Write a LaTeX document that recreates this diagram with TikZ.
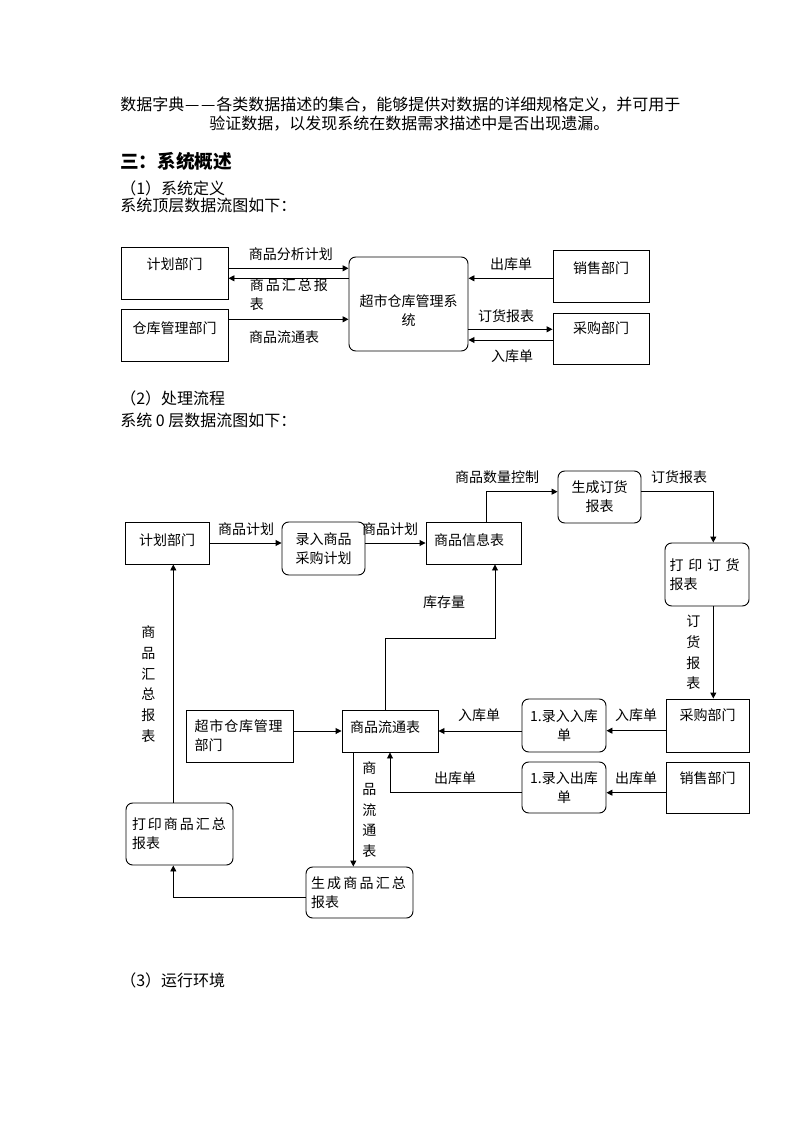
\documentclass[tikz,border=0pt]{standalone}
\usepackage{fontspec}
\setmainfont{Noto Sans CJK SC}
\usetikzlibrary{arrows.meta,positioning}

\newcommand{\dfd}{\fontsize{10.5pt}{14.25pt}\selectfont}
\newcommand{\vdfd}{\fontsize{10.5pt}{15.5pt}\selectfont}
\newcommand{\jspread}[2]{\makebox[#1][s]{#2}}

\begin{document}
\begin{tikzpicture}[x=0.75pt, y=-0.75pt,
    >={Triangle[length=4.5pt,width=4.5pt]},
    every node/.style={inner sep=0pt},
    ext/.style={draw, line width=0.7pt, font=\dfd},
    proc/.style={ext, rounded corners=5pt},
    lift/.style={text depth=#1},
    link/.style={->, line width=0.7pt},
    lbl/.style={font=\dfd},
    vlbl/.style={font=\vdfd, align=center},
    body/.style={font=\fontsize{12pt}{15pt}\selectfont, anchor=west}]
    %% Page
    \useasboundingbox (0,0) rectangle (794,1123);

    %% Text
    \node[body] (t1) at (120,105) {数据字典\makebox[1em]{—}\makebox[1em]{—}各类数据描述的集合，能够提供对数据的详细规格定义，并可用于};
    \node[body] (t2) at (209,123.3) {验证数据，以发现系统在数据需求描述中是否出现遗漏。};
    \node[body, font=\fontsize{14pt}{17pt}\selectfont\bfseries] (t3) at (120,161) {三：系统概述};
    \node[body] (t4) at (120,188.3) {（1）系统定义};
    \node[body] (t5) at (120,205) {系统顶层数据流图如下：};
    \node[body] (t6) at (120,398.3) {（2）处理流程};
    \node[body] (t7) at (120,420) {系统 0 层数据流图如下：};
    \node[body] (t8) at (120,980) {（3）运行环境};

    %% Top level
    \node[ext, minimum width=80.25pt, minimum height=39pt, lift=14.3pt] (plan) at (174.5,273) {计划部门};
    \node[ext, minimum width=80.25pt, minimum height=39pt, lift=11.3pt] (store) at (174.5,335) {仓库管理部门};
    \node[proc, align=center, minimum width=89.25pt, minimum height=70.5pt, text height=33pt] (sys) at (408.5,304) {超市仓库管理系\\统};
    \node[ext, minimum width=72pt, minimum height=39pt, lift=12.4pt] (sale) at (601,276) {销售部门};
    \node[ext, minimum width=72pt, minimum height=38.25pt, lift=16.6pt] (buy) at (601,338.5) {采购部门};

    \draw[link] (plan.east |- 0,268.3) -- (sys.west |- 0,268.3);
    \draw[link] (sys.west |- 0,278.3) -- (plan.east |- 0,278.3);
    \draw[link] (store.east |- 0,319.3) -- (sys.west |- 0,319.3);
    \draw[link] (sale.west |- 0,278.3) -- (sys.east |- 0,278.3);
    \draw[link] (sys.east |- 0,329.3) -- (buy.west |- 0,329.3);
    \draw[link] (buy.west |- 0,340) -- (sys.east |- 0,340);

    \node[lbl] (l-ana) at (290.8,254) {商品分析计划};
    \node[lbl, align=left, anchor=west] (l-sum) at (249.5,295) {\jspread{58.5pt}{商\hfill 品\hfill 汇\hfill 总\hfill 报}\\表};
    \node[lbl] (l-circ) at (284,336.7) {商品流通表};
    \node[lbl] (l-out) at (511,264) {出库单};
    \node[lbl] (l-ord) at (506,316) {订货报表};
    \node[lbl] (l-in) at (512,356) {入库单};

    %% Level 0
    \node[ext, minimum width=63pt, minimum height=31.5pt, lift=5.3pt] (plan0) at (167,543) {计划部门};
    \node[proc, align=center, minimum width=62.25pt, minimum height=39.75pt] (rec) at (323.5,548.5) {录入商品\\采购计划};
    \node[ext, minimum height=31.5pt, lift=5.3pt, inner xsep=6pt, text width=59.25pt, align=left] (info) at (473.5,543) {商品信息表};
    \node[proc, align=center, minimum width=62.25pt, minimum height=39pt] (gen) at (599.5,497) {生成订货\\报表};
    \node[proc, align=left, inner xsep=3.5pt, text width=56pt, minimum height=47.25pt] (prt) at (707,574.5) {\jspread{52.5pt}{打\hfill 印\hfill 订\hfill 货}\\报表};
    \node[ext, align=left, inner xsep=6.5pt, text width=67.25pt, minimum height=39pt] (wm) at (239.5,736) {\jspread{66pt}{超\hfill 市\hfill 仓\hfill 库\hfill 管\hfill 理}\\部门};
    \node[ext, minimum height=31.5pt, lift=7.2pt, inner xsep=6pt, text width=60pt, align=left] (circ) at (390,731) {商品流通表};
    \node[proc, align=center, minimum width=63pt, minimum height=39.75pt] (inrec) at (564,725.5) {1.录入入库\\单};
    \node[proc, align=center, minimum width=63pt, minimum height=38.25pt] (outrec) at (564,787.5) {1.录入出库\\单};
    \node[ext, minimum width=62.25pt, minimum height=39.75pt, lift=16.6pt] (buy0) at (707.5,725.5) {采购部门};
    \node[ext, minimum width=62.25pt, minimum height=38.25pt, lift=14.6pt] (sale0) at (707.5,787.5) {销售部门};
    \node[proc, align=left, inner xsep=4.5pt, text width=71.25pt, minimum height=46.5pt] (sumprt) at (179.5,834) {\jspread{70.5pt}{打\hfill 印\hfill 商\hfill 品\hfill 汇\hfill 总}\\报表};
    \node[proc, align=left, inner xsep=3.75pt, text width=72.75pt, minimum height=38.25pt] (sumgen) at (359.5,892.5) {\jspread{71.25pt}{生\hfill 成\hfill 商\hfill 品\hfill 汇\hfill 总}\\报表};

    \draw[link] (plan0.east) -- (plan0.east -| rec.west);
    \draw[link] (rec.east |- info.west) -- (info.west);
    \draw[link] (486,0 |- info.north) |- (gen.west |- 0,491.7);
    \draw[link] (gen.east |- 0,491.7) -| (713.3,0 |- prt.north);
    \draw[link] (713.3,0 |- prt.south) -- (713.3,0 |- buy0.north);
    \draw[link] (buy0.west |- 0,730.7) -- (inrec.east |- 0,730.7);
    \draw[link] (inrec.west |- circ.east) -- (circ.east);
    \draw[link] (sale0.west |- 0,792.7) -- (outrec.east |- 0,792.7);
    \draw[link] (outrec.west |- 0,792.7) -| (circ.south);
    \draw[link] (wm.east |- circ.west) -- (circ.west);
    \draw[link] (385,0 |- circ.north) |- (495,638.3) -- (495,0 |- info.south);
    \draw[link] (353.3,0 |- circ.south) -- (353.3,0 |- sumgen.north);
    \draw[link] (sumgen.west |- 0,897.7) -| (173.3,0 |- sumprt.south);
    \draw[link] (173.3,0 |- sumprt.north) -- (173.3,0 |- plan0.south);

    \node[lbl] (l-plan1) at (246,529) {商品计划};
    \node[lbl] (l-plan2) at (390,529) {商品计划};
    \node[lbl] (l-qty) at (497,476.7) {商品数量控制};
    \node[lbl] (l-ord0) at (679,476.7) {订货报表};
    \node[vlbl] (l-ordv) at (693.3,652.8) {订\\货\\报\\表};
    \node[lbl] (l-stock) at (444,602.7) {库存量};
    \node[lbl] (l-in1) at (636,715) {入库单};
    \node[lbl] (l-in2) at (479,715) {入库单};
    \node[lbl] (l-out1) at (636,778.3) {出库单};
    \node[lbl] (l-out2) at (455,778.3) {出库单};
    \node[vlbl] (l-circv) at (369.3,809.7) {商\\品\\流\\通\\表};
    \node[vlbl] (l-sumv) at (148.3,684.2) {商\\品\\汇\\总\\报\\表};
\end{tikzpicture}
\end{document}
